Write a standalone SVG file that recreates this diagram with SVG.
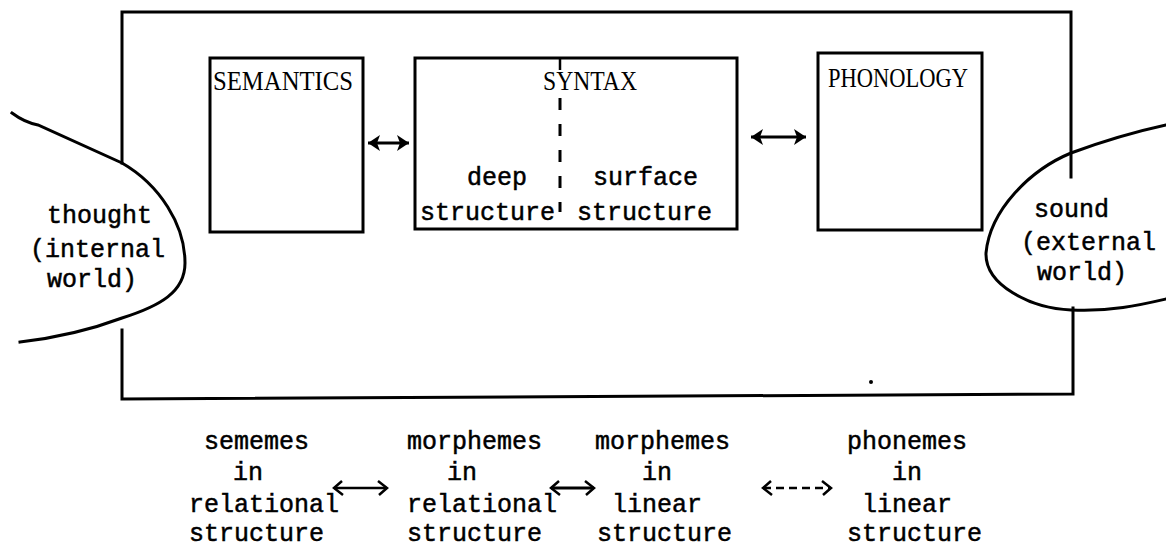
<svg xmlns="http://www.w3.org/2000/svg" width="1166" height="550" viewBox="0 0 1166 550">
<style>
  .ln { fill: none; stroke: #000; stroke-width: 3; stroke-linecap: square; stroke-linejoin: miter; }
  .box { fill: none; stroke: #000; stroke-width: 3; }
  .mono { font-family: "Liberation Mono", "Courier New", monospace; font-size: 25px; fill: #000; stroke: #000; stroke-width: 0.5; }
  .cap { font-family: "Liberation Serif", "Times New Roman", serif; font-size: 28px; fill: #000; }
  .conn { fill: none; stroke: #000; stroke-width: 3; }
  .thin { fill: none; stroke: #000; stroke-width: 2.5; }
</style>
<defs>
  <marker id="fa" markerUnits="userSpaceOnUse" markerWidth="14" markerHeight="18" refX="12" refY="8" orient="auto-start-reverse" overflow="visible">
    <path d="M0,0 L12,8 L0,16 L3,8 z" fill="#000"/>
  </marker>
  <marker id="oa" markerUnits="userSpaceOnUse" markerWidth="12" markerHeight="16" refX="10" refY="7" orient="auto-start-reverse" overflow="visible">
    <path d="M1,0 L10,7 L2,14" fill="none" stroke="#000" stroke-width="2.5"/>
  </marker>
</defs>
<rect width="1166" height="550" fill="#fff"/>

<g id="frame">
  <path class="ln" d="M122,163 L122,12 L1071,12 L1071,177"/>
  <path class="ln" d="M122,330 L122,399 L1073,394 L1073,308"/>
  <circle cx="871" cy="382" r="2" fill="#000"/>
</g>

<g id="thought">
  <path class="ln" d="M12,113 C20,119 28,123 38,125 L122,163 C160,185 185,225 185,263 C185,292 160,306 122,318 C90,330 55,338 20,342"/>
  <text class="mono" x="47" y="223">thought</text>
  <text class="mono" x="30" y="257">(internal</text>
  <text class="mono" x="47" y="287">world)</text>
</g>

<g id="sound">
  <path class="ln" d="M1166,125 C1120,135 1090,146 1071,153 C1030,170 990,210 986,253 C985,285 1030,308 1071,310 C1110,312 1140,305 1166,299"/>
  <text class="mono" x="1034" y="217">sound</text>
  <text class="mono" x="1021" y="250">(external</text>
  <text class="mono" x="1037" y="280">world)</text>
</g>

<g id="semantics">
  <rect class="box" x="210" y="58" width="153" height="174"/>
  <text class="cap" x="213" y="90" textLength="140" lengthAdjust="spacingAndGlyphs">SEMANTICS</text>
</g>

<g id="syntax">
  <rect class="box" x="415" y="58" width="322" height="171"/>
  <text class="cap" x="543" y="90" textLength="94" lengthAdjust="spacingAndGlyphs">SYNTAX</text>
  <line x1="560" y1="58" x2="560" y2="70" stroke="#000" stroke-width="2.5"/>
  <line x1="560" y1="98" x2="560" y2="212" stroke="#000" stroke-width="3" stroke-dasharray="12 14"/>
  <text class="mono" x="467" y="185">deep</text>
  <text class="mono" x="593" y="185">surface</text>
  <text class="mono" x="420" y="220">structure</text>
  <text class="mono" x="577" y="220">structure</text>
</g>

<g id="phonology">
  <rect class="box" x="818" y="53" width="164" height="177"/>
  <text class="cap" x="828" y="87" textLength="140" lengthAdjust="spacingAndGlyphs">PHONOLOGY</text>
</g>

<g id="sememes-relational">
  <text class="mono" x="204" y="449">sememes</text>
  <text class="mono" x="233" y="480">in</text>
  <text class="mono" x="189" y="512">relational</text>
  <text class="mono" x="189" y="541">structure</text>
</g>
<g id="morphemes-relational">
  <text class="mono" x="407" y="449">morphemes</text>
  <text class="mono" x="447" y="480">in</text>
  <text class="mono" x="407" y="512">relational</text>
  <text class="mono" x="407" y="541">structure</text>
</g>
<g id="morphemes-linear">
  <text class="mono" x="595" y="449">morphemes</text>
  <text class="mono" x="642" y="480">in</text>
  <text class="mono" x="612" y="512">linear</text>
  <text class="mono" x="597" y="541">structure</text>
</g>
<g id="phonemes-linear">
  <text class="mono" x="847" y="449">phonemes</text>
  <text class="mono" x="892" y="480">in</text>
  <text class="mono" x="862" y="512">linear</text>
  <text class="mono" x="847" y="541">structure</text>
</g>

<g id="connectors">
  <line class="conn" x1="368" y1="143" x2="409" y2="143" marker-start="url(#fa)" marker-end="url(#fa)"/>
  <line class="conn" x1="751" y1="137" x2="806" y2="137" marker-start="url(#fa)" marker-end="url(#fa)"/>
  <line class="thin" x1="334" y1="488" x2="387" y2="488" marker-start="url(#oa)" marker-end="url(#oa)"/>
  <line class="conn" x1="551" y1="488" x2="594" y2="488" marker-start="url(#oa)" marker-end="url(#oa)"/>
  <line class="thin" x1="763" y1="488" x2="831" y2="488" stroke-dasharray="8 5" marker-start="url(#oa)" marker-end="url(#oa)"/>
</g>
</svg>
